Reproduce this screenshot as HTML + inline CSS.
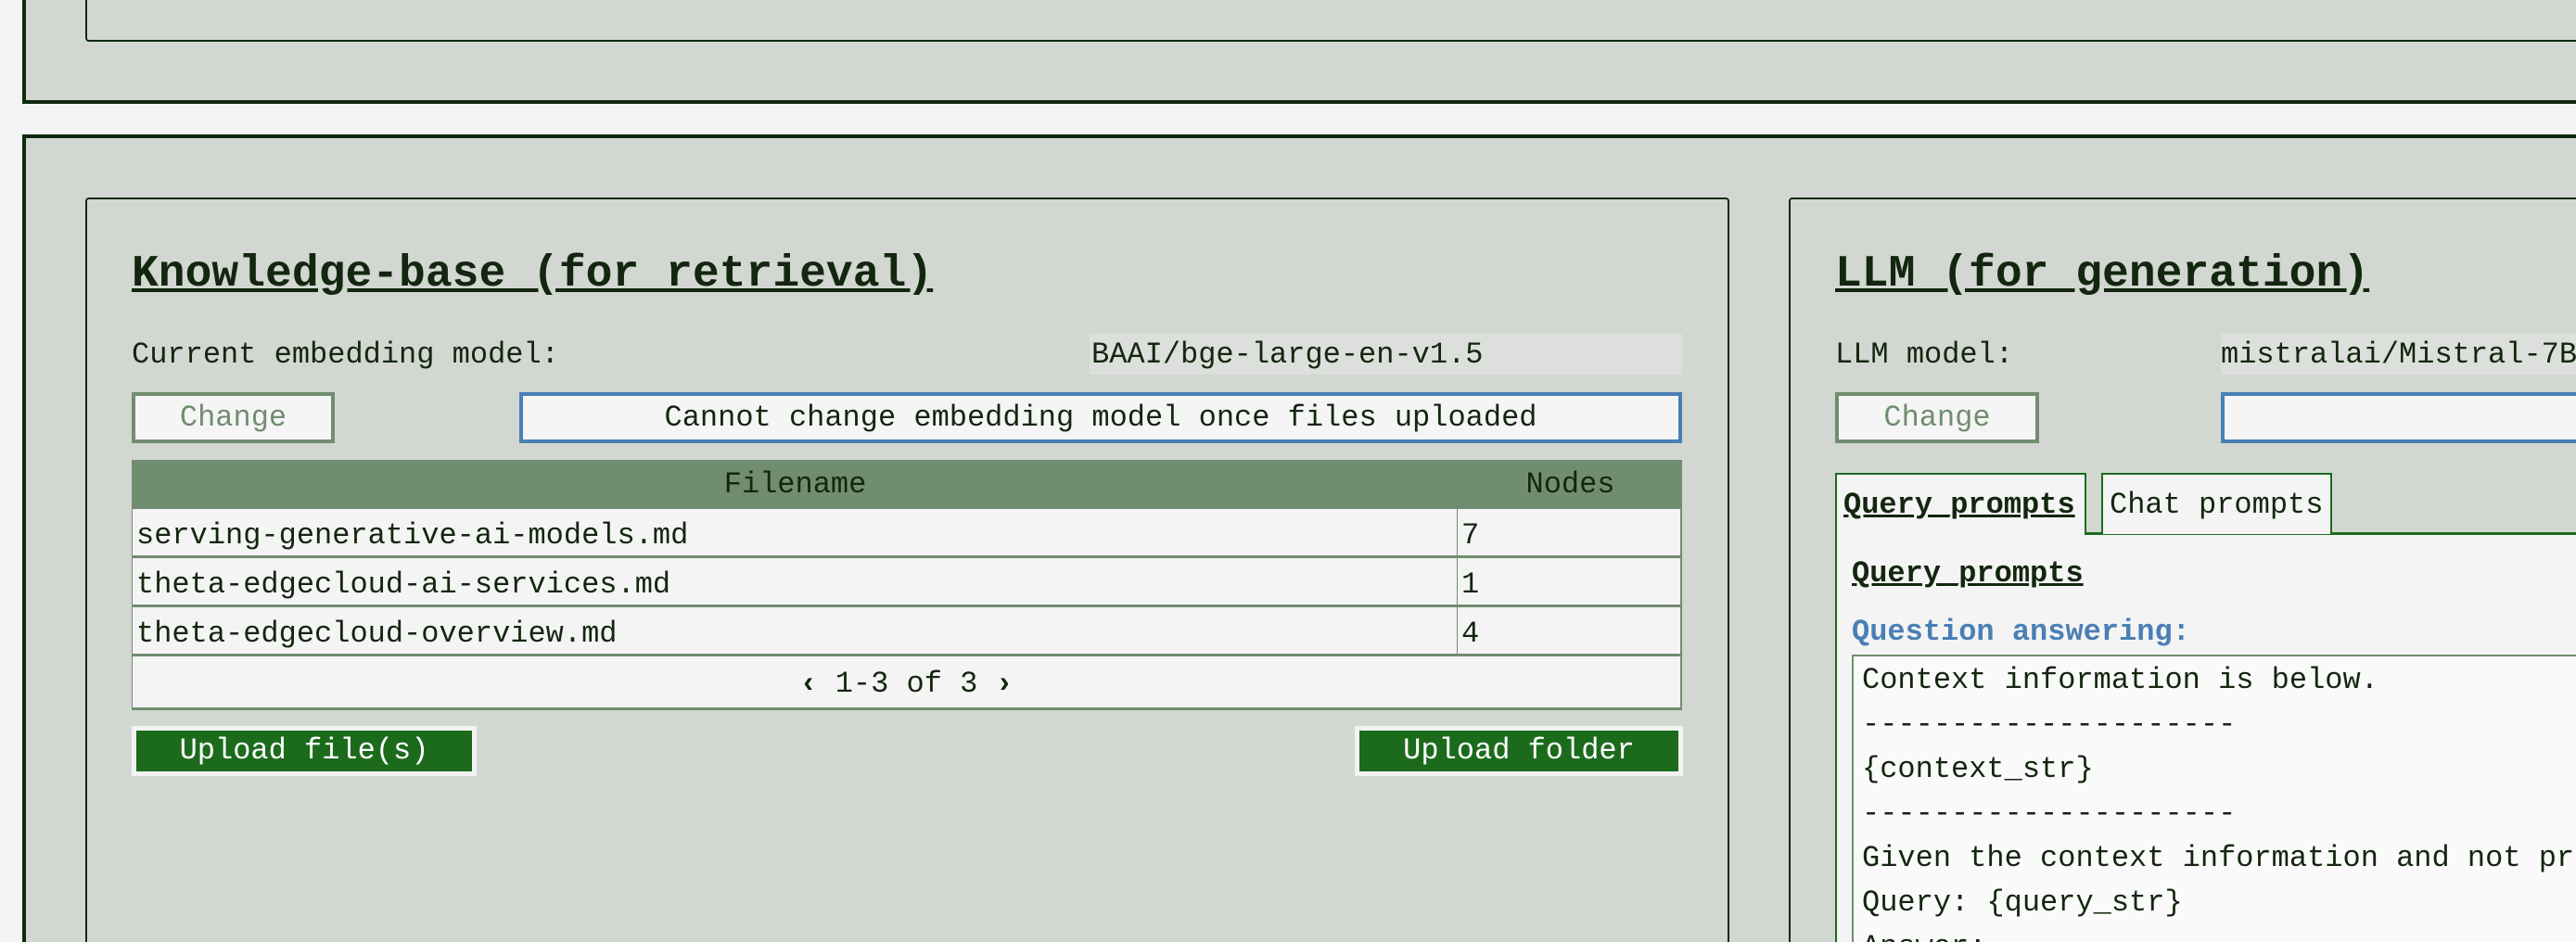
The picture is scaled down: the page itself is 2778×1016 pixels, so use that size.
<!DOCTYPE html>
<html><head><meta charset="utf-8"><style>
*{box-sizing:border-box;margin:0;padding:0}
html,body{width:2778px;height:1016px;overflow:hidden}
body{background:#f4f4f4;position:relative;font-family:"Liberation Mono","DejaVu Sans Mono",monospace;color:#13260f}
#w{position:absolute;left:0;top:0;width:2778px;height:1016px;overflow:hidden}
.a{position:absolute}
.outer{border:4px solid #0f2a0f;background:#d2d7d1}
.card{border:2px solid #0f2a0f;border-radius:4px;background:#d2d7d1}
.t{position:absolute;white-space:pre;font-size:32px;line-height:40px}
.title{font-size:48px;font-weight:bold;text-decoration:underline;line-height:56px}
.btn{border:4px solid #718d6f;background:#f5f5f5;color:#718d6f;text-align:center;font-size:32px;line-height:47px}
.msg{border:4px solid #4a7fb5;background:#f5f5f5;text-align:center;font-size:32px;line-height:47px}
.val{background:#dcdfdb;font-size:32px;line-height:46px}
.row{background:#f4f4f4;border-bottom:3px solid #718d6f;height:53px}
.up{background:#1c6b1c;border:5px solid #f2f2f2;color:#fff;text-align:center;font-size:32px;line-height:44px}
</style></head><body><div id="w">
<div class="a outer" style="left:24px;top:-20px;width:2760px;height:132px"></div>
<div class="a card" style="left:92px;top:-20px;width:2690px;height:65px"></div>
<div class="a outer" style="left:24px;top:145px;width:2760px;height:880px"></div>

<div class="a card" style="left:92px;top:213px;width:1773px;height:810px"></div>
<div class="t title" style="left:142px;top:268px">Knowledge-base (for retrieval)</div>
<div class="t" style="left:142px;top:363px">Current embedding model:</div>
<div class="a val" style="left:1175px;top:360px;width:639px;height:44px;padding-left:2px">BAAI/bge-large-en-v1.5</div>
<div class="a btn" style="left:142px;top:423px;width:219px;height:55px">Change</div>
<div class="a msg" style="left:560px;top:423px;width:1254px;height:55px">Cannot change embedding model once files uploaded</div>
<div class="a" style="left:142px;top:496px;width:1672px;height:270px;background:#f4f4f4;border-left:1px solid #718d6f;border-right:2px solid #718d6f">
 <div style="background:#718d6f;height:53px;position:relative;font-size:32px;line-height:53px">
  <span style="position:absolute;left:0;width:1429px;text-align:center">Filename</span>
  <span style="position:absolute;left:1429px;width:243px;text-align:center">Nodes</span></div>
 <div class="row" style="position:relative"><span class="t" style="left:4px;top:9px">serving-generative-ai-models.md</span><span class="t" style="left:1433px;top:9px">7</span><div class="a" style="left:1428px;top:0;width:1px;height:53px;background:#718d6f"></div></div>
 <div class="row" style="position:relative"><span class="t" style="left:4px;top:9px">theta-edgecloud-ai-services.md</span><span class="t" style="left:1433px;top:9px">1</span><div class="a" style="left:1428px;top:0;width:1px;height:53px;background:#718d6f"></div></div>
 <div class="row" style="position:relative"><span class="t" style="left:4px;top:9px">theta-edgecloud-overview.md</span><span class="t" style="left:1433px;top:9px">4</span><div class="a" style="left:1428px;top:0;width:1px;height:53px;background:#718d6f"></div></div>
 <div class="row" style="position:relative;height:58px;text-align:center;font-size:32px;line-height:60px"><b>‹</b> 1-3 of 3 <b>›</b></div>
</div>
<div class="a up" style="left:142px;top:783px;width:372px;height:54px">Upload file(s)</div>
<div class="a up" style="left:1461px;top:783px;width:354px;height:54px">Upload folder</div>

<div class="a card" style="left:1929px;top:213px;width:860px;height:810px"></div>
<div class="t title" style="left:1979px;top:268px">LLM (for generation)</div>
<div class="t" style="left:1979px;top:363px">LLM model:</div>
<div class="a val" style="left:2395px;top:360px;width:400px;height:44px">mistralai/Mistral-7B</div>
<div class="a btn" style="left:1979px;top:423px;width:220px;height:55px">Change</div>
<div class="a msg" style="left:2395px;top:423px;width:400px;height:55px"></div>
<div class="a" style="left:1979px;top:574px;width:820px;height:450px;background:#f4f4f4;border-top:3px solid #1c6b1c;border-left:2px solid #1c6b1c"></div>
<div class="a" style="left:1979px;top:510px;width:271px;height:67px;border:2px solid #1c6b1c;border-bottom:none;background:#f4f4f4;font-size:32px;font-weight:bold;text-decoration:underline;line-height:66px;padding-left:7px">Query_prompts</div>
<div class="a" style="left:2266px;top:510px;width:249px;height:66px;border:2px solid #1c6b1c;border-bottom:none;background:#f4f4f4;font-size:32px;line-height:66px;padding-left:7px">Chat prompts</div>
<div class="t" style="left:1997px;top:599px;font-weight:bold;text-decoration:underline">Query_prompts</div>
<div class="t" style="left:1997px;top:662px;font-weight:bold;color:#4a7fb5">Question answering:</div>
<div class="a" style="left:1997px;top:706px;width:800px;height:330px;overflow:hidden;background:#fafafa;border-top:2px solid #718d6f;border-left:2px solid #718d6f;font-size:32px;line-height:48px;padding:2px 0 0 9px;white-space:pre">Context information is below.
---------------------
{context_str}
---------------------
Given the context information and not prior knowledge, answer the query.
Query: {query_str}
Answer:</div>
</div></body></html>
